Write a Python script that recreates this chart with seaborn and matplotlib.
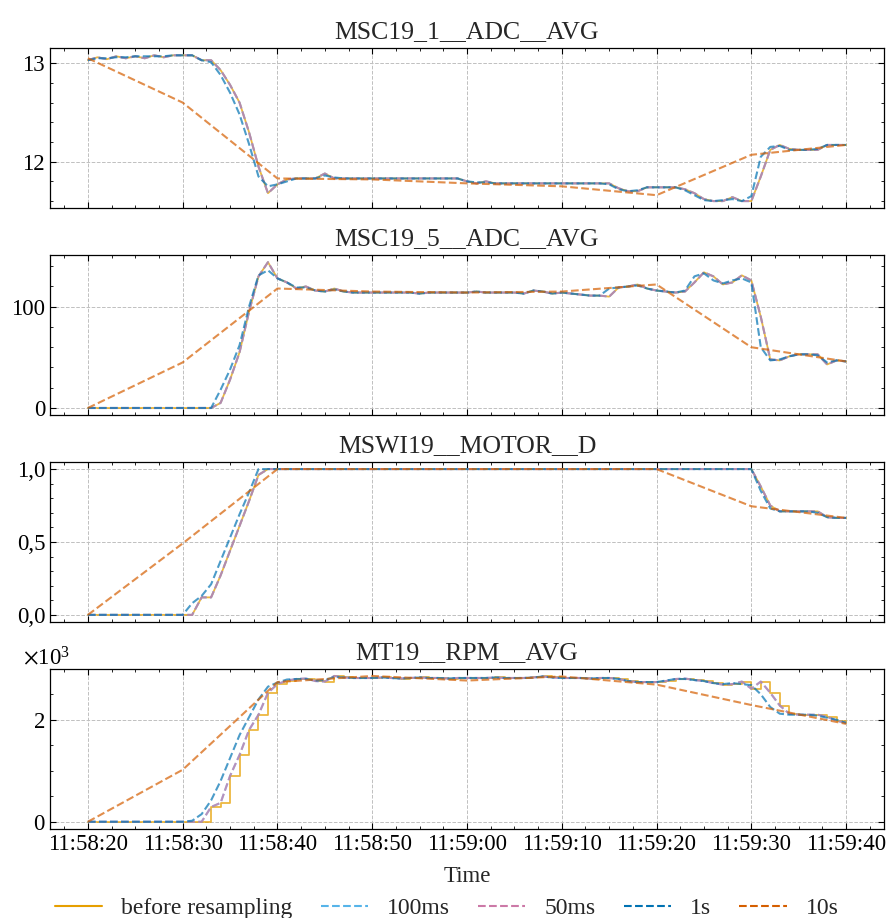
import pandas as pd
import matplotlib
matplotlib.use('Agg')
import matplotlib.pyplot as plt
import matplotlib.dates as mdates
from matplotlib.ticker import MultipleLocator, AutoMinorLocator, FuncFormatter, ScalarFormatter
from matplotlib.lines import Line2D
import seaborn as sns

# time grids (1 s and 10 s)
t_1s = pd.date_range('2023-01-01 11:58:20', periods=81, freq='s')
t_10s = pd.date_range('2023-01-01 11:58:20', periods=9, freq='10s')

titles = ['MSC19_1__ADC__AVG', 'MSC19_5__ADC__AVG', 'MSWI19__MOTOR__D', 'MT19__RPM__AVG']
labels = ['before resampling', '100ms', '50ms', '1s', '10s']
colors = ['#E69F00', '#56B4E9', '#CC79A7', '#0072B2', '#D55E00']

# MSC19_1__ADC__AVG
p1_raw = [13.03, 13.06, 13.04, 13.07, 13.05, 13.07, 13.05, 13.08, 13.06, 13.08,
          13.08, 13.08, 13.03, 13.03, 12.93, 12.78, 12.60, 12.30, 11.95, 11.68,
          11.77, 11.82, 11.83, 11.83, 11.83, 11.88, 11.83, 11.83, 11.83, 11.83,
          11.83, 11.83, 11.83, 11.83, 11.83, 11.83, 11.83, 11.83, 11.83, 11.83,
          11.80, 11.78, 11.80, 11.78, 11.78, 11.78, 11.78, 11.78, 11.78, 11.78,
          11.78, 11.78, 11.78, 11.78, 11.78, 11.78, 11.73, 11.70, 11.70, 11.74,
          11.74, 11.74, 11.74, 11.72, 11.68, 11.62, 11.60, 11.60, 11.64, 11.60,
          11.60, 11.85, 12.12, 12.17, 12.13, 12.12, 12.12, 12.12, 12.17, 12.17,
          12.17]
p1_1s = [13.03, 13.05, 13.05, 13.06, 13.06, 13.07, 13.07, 13.07, 13.07, 13.08,
         13.08, 13.08, 13.03, 13.01, 12.88, 12.70, 12.48, 12.18, 11.85, 11.75,
         11.77, 11.80, 11.83, 11.83, 11.83, 11.86, 11.84, 11.83, 11.83, 11.83,
         11.83, 11.83, 11.83, 11.83, 11.83, 11.83, 11.83, 11.83, 11.83, 11.83,
         11.80, 11.79, 11.79, 11.78, 11.78, 11.78, 11.78, 11.78, 11.78, 11.78,
         11.78, 11.78, 11.78, 11.78, 11.78, 11.77, 11.72, 11.70, 11.71, 11.74,
         11.74, 11.74, 11.74, 11.71, 11.66, 11.61, 11.60, 11.61, 11.62, 11.60,
         11.65, 12.05, 12.15, 12.16, 12.12, 12.12, 12.12, 12.13, 12.17, 12.17,
         12.17]
p1_10s = [13.05, 12.60, 11.83, 11.82, 11.78, 11.75, 11.66, 12.07, 12.17]

# MSC19_5__ADC__AVG
p2_raw = [0, 0, 0, 0, 0, 0, 0, 0, 0, 0,
          0, 0, 0, 0, 5, 28, 55, 95, 130, 144,
          128, 124, 118, 120, 116, 115, 118, 115, 114, 114,
          114, 114, 114, 114, 114, 113, 114, 114, 114, 114,
          114, 115, 114, 114, 114, 114, 113, 116, 115, 113,
          114, 113, 112, 111, 111, 110, 119, 120, 122, 118,
          116, 115, 114, 115, 124, 134, 130, 122, 124, 131,
          126, 90, 48, 47, 51, 53, 53, 53, 43, 47,
          46]
p2_1s = [0, 0, 0, 0, 0, 0, 0, 0, 0, 0,
         0, 0, 0, 0, 18, 38, 62, 100, 131, 136,
         128, 124, 119, 119, 116, 115, 117, 115, 114, 114,
         114, 114, 114, 114, 114, 113, 114, 114, 114, 114,
         114, 115, 114, 114, 114, 114, 113, 116, 115, 113,
         114, 113, 112, 111, 111, 118, 119, 120, 121, 118,
         116, 115, 114, 116, 130, 133, 126, 123, 126, 128,
         124, 60, 47, 48, 51, 53, 53, 52, 45, 47,
         46]
p2_10s = [0, 45, 118, 115, 114, 115, 122, 60, 46]

# MSWI19__MOTOR__D
p3_raw = [0, 0, 0, 0, 0, 0, 0, 0, 0, 0,
          0, 0, 0.12, 0.12, 0.27, 0.44, 0.61, 0.78, 0.96, 1.0,
          1.0, 1.0, 1.0, 1.0, 1.0, 1.0, 1.0, 1.0, 1.0, 1.0,
          1.0, 1.0, 1.0, 1.0, 1.0, 1.0, 1.0, 1.0, 1.0, 1.0,
          1.0, 1.0, 1.0, 1.0, 1.0, 1.0, 1.0, 1.0, 1.0, 1.0,
          1.0, 1.0, 1.0, 1.0, 1.0, 1.0, 1.0, 1.0, 1.0, 1.0,
          1.0, 1.0, 1.0, 1.0, 1.0, 1.0, 1.0, 1.0, 1.0, 1.0,
          1.0, 0.88, 0.75, 0.71, 0.71, 0.71, 0.71, 0.71, 0.67, 0.665,
          0.665]
p3_1s = [0, 0, 0, 0, 0, 0, 0, 0, 0, 0,
         0, 0.08, 0.13, 0.21, 0.37, 0.53, 0.69, 0.84, 1.0, 1.0,
         1.0, 1.0, 1.0, 1.0, 1.0, 1.0, 1.0, 1.0, 1.0, 1.0,
         1.0, 1.0, 1.0, 1.0, 1.0, 1.0, 1.0, 1.0, 1.0, 1.0,
         1.0, 1.0, 1.0, 1.0, 1.0, 1.0, 1.0, 1.0, 1.0, 1.0,
         1.0, 1.0, 1.0, 1.0, 1.0, 1.0, 1.0, 1.0, 1.0, 1.0,
         1.0, 1.0, 1.0, 1.0, 1.0, 1.0, 1.0, 1.0, 1.0, 1.0,
         1.0, 0.85, 0.73, 0.71, 0.71, 0.71, 0.71, 0.70, 0.67, 0.665,
         0.665]
p3_10s = [0, 0.49, 1.0, 1.0, 1.0, 1.0, 1.0, 0.745, 0.665]

# MT19__RPM__AVG
p4_raw = [0, 0, 0, 0, 0, 0, 0, 0, 0, 0,
          0, 0, 0, 290, 370, 900, 1310, 1800, 2100, 2530,
          2700, 2770, 2800, 2810, 2760, 2750, 2860, 2830, 2820, 2820,
          2820, 2830, 2820, 2810, 2820, 2830, 2820, 2820, 2810, 2820,
          2820, 2820, 2820, 2830, 2820, 2820, 2820, 2830, 2850, 2830,
          2820, 2820, 2820, 2810, 2820, 2820, 2800, 2760, 2740, 2740,
          2740, 2760, 2800, 2810, 2780, 2760, 2720, 2690, 2700, 2750,
          2610, 2750, 2530, 2280, 2120, 2100, 2100, 2100, 2060, 1980,
          1940]
p4_1s = [0, 0, 0, 0, 0, 0, 0, 0, 0, 0,
         0, 20, 150, 420, 800, 1250, 1700, 2050, 2400, 2650,
         2730, 2790, 2800, 2800, 2770, 2780, 2840, 2830, 2820, 2820,
         2820, 2830, 2820, 2810, 2820, 2830, 2820, 2820, 2810, 2820,
         2820, 2820, 2820, 2830, 2820, 2820, 2820, 2830, 2850, 2830,
         2820, 2820, 2820, 2810, 2820, 2820, 2800, 2760, 2740, 2740,
         2740, 2770, 2800, 2800, 2780, 2760, 2720, 2700, 2720, 2700,
         2680, 2500, 2250, 2120, 2100, 2100, 2100, 2080, 2040, 2000,
         1940]
p4_10s = [0, 1020, 2740, 2860, 2770, 2850, 2690, 2290, 1920]

panels = [(p1_raw, p1_1s, p1_10s), (p2_raw, p2_1s, p2_10s),
          (p3_raw, p3_1s, p3_10s), (p4_raw, p4_1s, p4_10s)]

sns.set_style('ticks')
plt.rcParams['font.family'] = ['Liberation Serif', 'DejaVu Serif']
plt.rcParams['mathtext.fontset'] = 'stix'
plt.rcParams.update({
    'xtick.direction': 'in', 'ytick.direction': 'in',
    'xtick.top': True, 'ytick.right': True,
    'xtick.major.size': 4, 'ytick.major.size': 4,
    'xtick.minor.size': 2.2, 'ytick.minor.size': 2.2,
    'xtick.minor.visible': True, 'ytick.minor.visible': True,
    'axes.edgecolor': 'black', 'axes.linewidth': 0.9,
    'xtick.color': 'black', 'ytick.color': 'black',
    'xtick.labelsize': 16.5, 'ytick.labelsize': 16.5,
})

fig, axes = plt.subplots(4, 1, figsize=(8.88, 9.18), dpi=100, sharex=True)
fig.subplots_adjust(left=0.0563, right=0.9955, top=0.9477, bottom=0.0969, hspace=0.29)

for i, (ax, (raw, s1, s10)) in enumerate(zip(axes, panels)):
    sns.lineplot(x=t_1s, y=raw, ax=ax, color=colors[0], lw=1.3, alpha=0.75,
                 estimator=None, drawstyle='steps-post' if i == 3 else 'default')
    sns.lineplot(x=t_1s, y=raw, ax=ax, color=colors[1], lw=1.5, alpha=0.7,
                 linestyle='--', estimator=None)
    sns.lineplot(x=t_1s, y=raw, ax=ax, color=colors[2], lw=1.5, alpha=0.7,
                 linestyle='--', estimator=None)
    sns.lineplot(x=t_1s, y=s1, ax=ax, color=colors[3], lw=1.5, alpha=0.7,
                 linestyle='--', estimator=None)
    sns.lineplot(x=t_10s, y=s10, ax=ax, color=colors[4], lw=1.5, alpha=0.7,
                 linestyle='--', estimator=None)
    ax.set_title(titles[i], fontsize=18.5, pad=7)
    ax.grid(True, which='major', linestyle='--', color='#c0c0c0', lw=0.7)
    ax.set_ylabel('')
    ax.set_xlabel('')

axes[0].yaxis.set_major_locator(MultipleLocator(1))
axes[0].yaxis.set_minor_locator(MultipleLocator(0.2))
axes[1].yaxis.set_major_locator(MultipleLocator(100))
axes[1].yaxis.set_minor_locator(MultipleLocator(20))
axes[2].yaxis.set_major_locator(MultipleLocator(0.5))
axes[2].yaxis.set_minor_locator(MultipleLocator(0.1))
axes[2].yaxis.set_major_formatter(FuncFormatter(lambda v, p: f'{v:.1f}'.replace('.', ',')))
axes[3].yaxis.set_major_locator(MultipleLocator(2000))
axes[3].yaxis.set_minor_locator(MultipleLocator(500))
sf = ScalarFormatter(useMathText=True)
sf.set_powerlimits((3, 3))
axes[3].yaxis.set_major_formatter(sf)
axes[3].yaxis.get_offset_text().set_fontsize(16.5)
axes[3].yaxis.get_offset_text().set_x(-0.032)

axes[3].xaxis.set_major_locator(mdates.SecondLocator(bysecond=range(0, 60, 10)))
axes[3].xaxis.set_minor_locator(AutoMinorLocator(4))
axes[3].xaxis.set_major_formatter(mdates.DateFormatter('%H:%M:%S'))
axes[3].set_xlabel('Time', fontsize=16.5, labelpad=8)

handles = [Line2D([], [], color=colors[0], lw=1.5)] + \
          [Line2D([], [], color=c, lw=1.5, linestyle='--') for c in colors[1:]]
fig.legend(handles, labels, loc='lower center', bbox_to_anchor=(0.503, -0.024), ncol=5,
           frameon=False, fontsize=17, handlelength=2.0, handletextpad=0.8,
           columnspacing=1.2)

fig.savefig('out.png', dpi=100)
